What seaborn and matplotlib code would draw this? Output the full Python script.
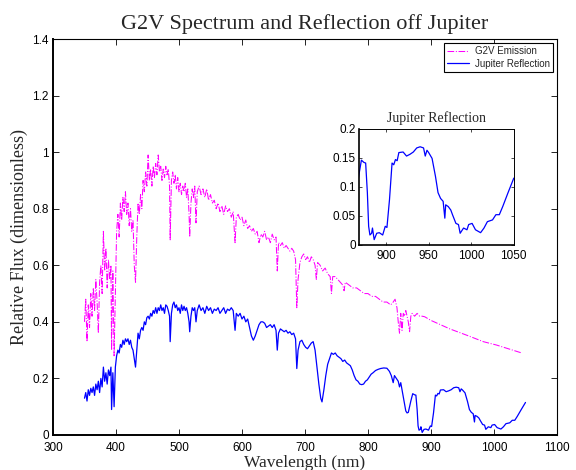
import pandas as pd
import matplotlib
matplotlib.use("Agg")
import matplotlib.pyplot as plt
import seaborn as sns

# --- data ---
g2v_nm = [350, 352, 354, 356, 358, 360, 362, 364, 366, 368, 370, 372, 374, 376, 378,
          380, 382, 384, 386, 388, 390, 392, 393, 395, 397, 399, 401, 403, 405, 407,
          409, 411, 413, 415, 417, 419, 421, 423, 425, 427, 429, 431, 433, 435, 437,
          439, 441, 443, 445, 447, 449, 451, 453, 455, 457, 459, 461, 463, 465, 467,
          469, 471, 473, 475, 477, 479, 481, 483, 485, 486, 488, 490, 492, 494, 496,
          498, 500, 502, 504, 506, 508, 510, 512, 514, 516, 517, 519, 521, 523, 525,
          527, 529, 532, 535, 538, 541, 544, 547, 550, 553, 556, 559, 562, 565, 568,
          571, 574, 577, 580, 583, 586, 589, 591, 594, 597, 600, 603, 606, 609, 612,
          615, 618, 621, 624, 627, 630, 633, 636, 639, 642, 645, 648, 651, 654, 656,
          658, 661, 664, 667, 670, 673, 676, 679, 682, 685, 687, 689, 692, 695, 698,
          701, 704, 707, 710, 713, 716, 718, 720, 724, 728, 732, 736, 740, 742, 744,
          748, 752, 756, 760, 762, 764, 770, 776, 782, 788, 794, 800, 806, 812, 818,
          824, 830, 836, 840, 843, 846, 848, 850, 852, 854, 856, 858, 860, 862, 864,
          866, 868, 870, 874, 878, 882, 886, 890, 900, 930, 960, 983, 1004, 1044]
g2v_flux = [0.40, 0.48, 0.33, 0.46, 0.38, 0.50, 0.42, 0.52, 0.44, 0.55, 0.47, 0.36, 0.54, 0.60, 0.50,
            0.72, 0.58, 0.66, 0.52, 0.62, 0.55, 0.60, 0.30, 0.58, 0.28, 0.50, 0.72, 0.78, 0.70, 0.82,
            0.76, 0.84, 0.79, 0.86, 0.78, 0.82, 0.74, 0.80, 0.72, 0.76, 0.60, 0.54, 0.70, 0.82, 0.78,
            0.85, 0.80, 0.90, 0.86, 0.93, 0.88, 0.99, 0.90, 0.94, 0.88, 0.95, 0.91, 0.96, 0.92, 0.99,
            0.93, 0.95, 0.90, 0.94, 0.91, 0.95, 0.92, 0.94, 0.88, 0.69, 0.90, 0.93, 0.89, 0.92, 0.87,
            0.91, 0.86, 0.89, 0.85, 0.88, 0.86, 0.89, 0.84, 0.87, 0.78, 0.70, 0.82, 0.87, 0.84, 0.88,
            0.75, 0.86, 0.88, 0.85, 0.87, 0.84, 0.87, 0.83, 0.85, 0.82, 0.83, 0.80, 0.82, 0.79, 0.81,
            0.78, 0.81, 0.79, 0.80, 0.77, 0.79, 0.68, 0.77, 0.78, 0.76, 0.77, 0.74, 0.76, 0.73, 0.74,
            0.72, 0.73, 0.71, 0.72, 0.68, 0.71, 0.70, 0.72, 0.69, 0.70, 0.68, 0.71, 0.69, 0.70, 0.58,
            0.68, 0.67, 0.68, 0.66, 0.67, 0.66, 0.65, 0.66, 0.65, 0.62, 0.45, 0.55, 0.61, 0.63, 0.64,
            0.62, 0.63, 0.61, 0.63, 0.62, 0.60, 0.55, 0.61, 0.60, 0.58, 0.59, 0.57, 0.56, 0.50, 0.56,
            0.56, 0.55, 0.54, 0.53, 0.51, 0.54, 0.53, 0.52, 0.52, 0.51, 0.50, 0.50, 0.49, 0.49, 0.48,
            0.47, 0.47, 0.46, 0.47, 0.48, 0.45, 0.40, 0.36, 0.43, 0.37, 0.43, 0.42, 0.44, 0.42, 0.40,
            0.365, 0.42, 0.43, 0.42, 0.43, 0.42, 0.42, 0.418, 0.405, 0.375, 0.35, 0.33, 0.318, 0.29]

jup_nm = [350, 352, 354, 356, 358, 360, 362, 364, 366, 368, 370, 372, 374, 376, 378,
          380, 382, 384, 386, 388, 390, 392, 393, 395, 397, 399, 401, 403, 405, 407,
          409, 411, 413, 415, 417, 419, 421, 423, 425, 427, 429, 431, 433, 435, 437,
          439, 441, 443, 445, 447, 449, 451, 453, 455, 457, 459, 461, 463, 465, 467,
          469, 471, 473, 475, 477, 479, 481, 483, 485, 486, 488, 490, 492, 494, 496,
          498, 500, 502, 504, 506, 508, 510, 512, 514, 516, 517, 519, 521, 523, 525,
          527, 529, 532, 535, 538, 541, 544, 547, 550, 553, 556, 559, 562, 565, 568,
          571, 574, 577, 580, 583, 586, 589, 591, 594, 597, 600, 603, 606, 609, 612,
          615, 618, 621, 624, 627, 630, 633, 636, 639, 642, 645, 648, 651, 654, 656,
          658, 661, 664, 667, 670, 673, 676, 679, 682, 685, 687, 689, 692, 695, 698,
          701, 704, 707, 710, 713, 716, 719, 722, 725, 727, 730, 733, 736, 739, 742,
          745, 748, 751, 754, 757, 760, 763, 766, 769, 772, 775, 778, 781, 784, 787,
          790, 793, 796, 799, 802, 805, 808, 812, 816, 820, 825, 830, 834, 837, 840,
          842, 845, 848, 850, 852, 854, 856, 858, 860, 862, 864, 866, 868, 871, 874,
          876, 878, 879.5, 881, 883, 884, 886, 889, 892, 896, 899, 901, 904, 907, 909,
          911, 913, 915, 920, 924, 928, 932, 936, 940, 944, 946, 948, 950, 954, 958,
          961, 964, 967, 969, 970, 973, 976, 978, 982, 985, 987, 991, 995, 997, 1001,
          1005, 1011, 1015, 1019, 1025, 1029, 1033, 1037, 1043, 1050]
jup_flux = [0.13, 0.15, 0.12, 0.16, 0.14, 0.165, 0.15, 0.17, 0.14, 0.18, 0.16, 0.19, 0.15, 0.20, 0.17,
            0.24, 0.19, 0.22, 0.18, 0.23, 0.21, 0.24, 0.09, 0.22, 0.10, 0.24, 0.28, 0.30, 0.29, 0.32,
            0.31, 0.335, 0.32, 0.34, 0.33, 0.34, 0.32, 0.335, 0.31, 0.30, 0.27, 0.24, 0.30, 0.36, 0.34,
            0.37, 0.38, 0.37, 0.40, 0.39, 0.415, 0.42, 0.41, 0.43, 0.42, 0.44, 0.43, 0.45, 0.43, 0.45,
            0.44, 0.46, 0.44, 0.45, 0.43, 0.46, 0.455, 0.44, 0.42, 0.33, 0.43, 0.46, 0.47, 0.45, 0.46,
            0.44, 0.45, 0.43, 0.46, 0.44, 0.455, 0.44, 0.45, 0.43, 0.40, 0.365, 0.42, 0.45, 0.44, 0.45,
            0.40, 0.44, 0.46, 0.44, 0.45, 0.43, 0.455, 0.44, 0.45, 0.43, 0.445, 0.44, 0.45, 0.43, 0.44,
            0.45, 0.43, 0.445, 0.44, 0.45, 0.44, 0.37, 0.43, 0.42, 0.43, 0.41, 0.42, 0.40, 0.41, 0.38,
            0.35, 0.335, 0.35, 0.37, 0.39, 0.40, 0.40, 0.395, 0.38, 0.385, 0.39, 0.38, 0.39, 0.37, 0.30,
            0.36, 0.375, 0.37, 0.365, 0.37, 0.36, 0.365, 0.355, 0.36, 0.34, 0.235, 0.30, 0.33, 0.335, 0.32,
            0.31, 0.305, 0.315, 0.325, 0.33, 0.30, 0.24, 0.18, 0.13, 0.117, 0.16, 0.21, 0.25, 0.27, 0.29,
            0.285, 0.29, 0.28, 0.275, 0.27, 0.26, 0.265, 0.255, 0.25, 0.245, 0.23, 0.21, 0.195, 0.19, 0.18,
            0.178, 0.18, 0.19, 0.195, 0.205, 0.215, 0.22, 0.228, 0.232, 0.235, 0.237, 0.236, 0.225, 0.21, 0.185,
            0.21, 0.20, 0.19, 0.17, 0.185, 0.16, 0.135, 0.11, 0.085, 0.078, 0.08, 0.10, 0.12, 0.146, 0.142,
            0.141, 0.09, 0.032, 0.017, 0.02, 0.029, 0.009, 0.02, 0.021, 0.017, 0.032, 0.03, 0.078, 0.141, 0.138,
            0.147, 0.145, 0.159, 0.16, 0.153, 0.156, 0.16, 0.167, 0.169, 0.167, 0.153, 0.163, 0.159, 0.149, 0.118,
            0.09, 0.08, 0.075, 0.046, 0.069, 0.066, 0.06, 0.052, 0.037, 0.035, 0.02, 0.029, 0.026, 0.035, 0.037,
            0.026, 0.021, 0.029, 0.04, 0.043, 0.052, 0.052, 0.066, 0.089, 0.115]

g2v = pd.DataFrame({"nm": g2v_nm, "flux": g2v_flux})
jup = pd.DataFrame({"nm": jup_nm, "flux": jup_flux})

main_xticks = [300, 400, 500, 600, 700, 800, 900, 1000, 1100]
main_yticks = [0, 0.2, 0.4, 0.6, 0.8, 1.0, 1.2, 1.4]
main_ylabels = ["0", "0.2", "0.4", "0.6", "0.8", "1", "1.2", "1.4"]
inset_xticks = [900, 950, 1000, 1050]
inset_yticks = [0, 0.05, 0.1, 0.15, 0.2]
inset_ylabels = ["0", "0.05", "0.1", "0.15", "0.2"]

# --- style ---
sns.set_theme(style="ticks")
plt.rcParams['font.family'] = ['Liberation Sans', 'DejaVu Sans']
serif = ['Liberation Serif', 'DejaVu Serif']

fig = plt.figure(figsize=(5.76, 4.7), dpi=100)
ax = fig.add_axes([0.092, 0.0745, 0.875, 0.8425])

sns.lineplot(data=g2v, x="nm", y="flux", ax=ax, color="#ff00ff", linestyle="-.",
             linewidth=0.75, sort=False, estimator=None, label="G2V Emission")
sns.lineplot(data=jup, x="nm", y="flux", ax=ax, color="#0000ff", linewidth=0.9,
             sort=False, estimator=None, label="Jupiter Reflection")

ax.set_xlim(300, 1100)
ax.set_ylim(0, 1.4)
ax.set_xticks(main_xticks)
ax.set_yticks(main_yticks)
ax.set_yticklabels(main_ylabels)
ax.tick_params(direction="in", top=True, right=True, labelsize=8.5, length=4,
               width=0.6, colors="black", pad=3)
ax.tick_params(axis="x", pad=5)
for side in ["left", "bottom"]:
    ax.spines[side].set_linewidth(1.4)
for side in ["top", "right"]:
    ax.spines[side].set_linewidth(0.8)
for s in ax.spines.values():
    s.set_color("black")

ax.set_title("G2V Spectrum and Reflection off Jupiter", family=serif, fontsize=16, pad=7)
ax.set_xlabel("Wavelength (nm)", family=serif, fontsize=12.5, labelpad=0.5)
ax.set_ylabel("Relative Flux (dimensionless)", family=serif, fontsize=13, labelpad=3)

leg = ax.legend(loc="upper right", fontsize=7, frameon=True, fancybox=False,
                edgecolor="black", framealpha=1, borderpad=0.35, handlelength=2.2,
                handletextpad=0.6, labelspacing=0.25, borderaxespad=0.4)
leg.get_frame().set_linewidth(0.8)

# --- inset ---
ins = fig.add_axes([0.623, 0.479, 0.269, 0.247])
sns.lineplot(data=jup, x="nm", y="flux", ax=ins, color="#0000ff", linewidth=0.9,
             sort=False, estimator=None, legend=False)
ins.set_xlim(868, 1050)
ins.set_ylim(0, 0.2)
ins.set_xticks(inset_xticks)
ins.set_yticks(inset_yticks)
ins.set_yticklabels(inset_ylabels)
ins.tick_params(direction="in", top=True, right=True, labelsize=8.5, length=2,
                width=0.5, colors="black", pad=2)
ins.tick_params(axis="x", pad=4)
for side in ["left", "bottom"]:
    ins.spines[side].set_linewidth(1.2)
for side in ["top", "right"]:
    ins.spines[side].set_linewidth(0.7)
for s in ins.spines.values():
    s.set_color("black")
ins.set_xlabel("")
ins.set_ylabel("")
ins.set_title("Jupiter Reflection", family=serif, fontsize=10, pad=5)

fig.savefig("out.png", dpi=100)
